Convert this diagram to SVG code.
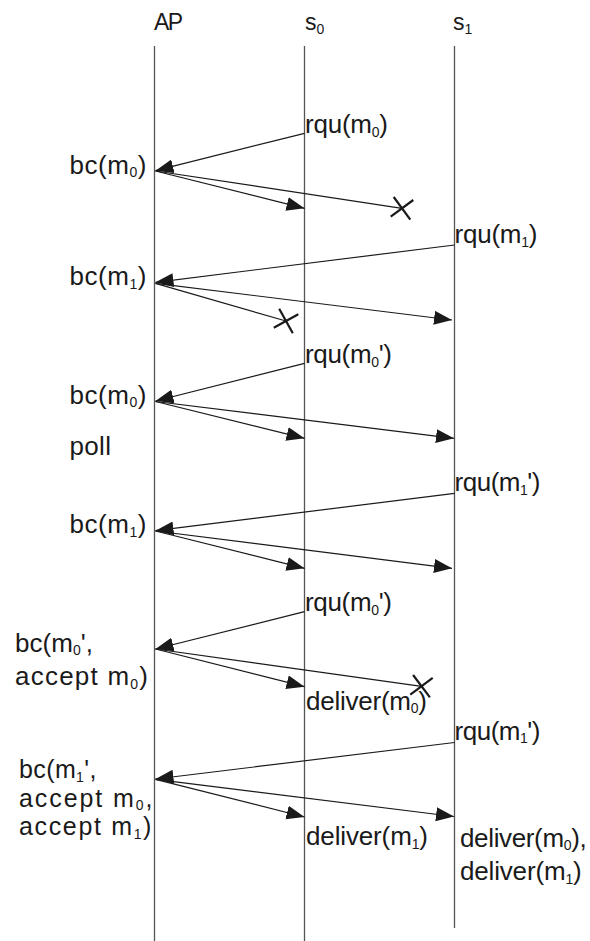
<svg xmlns="http://www.w3.org/2000/svg" width="590" height="941" viewBox="0 0 590 941">
<style>
.lbl{font-family:"Liberation Sans",Arial,sans-serif;font-size:26px;fill:#1a1a1a}
.tight{font-size:25px}
.hdr{font-family:"Liberation Sans",Arial,sans-serif;font-size:23px;fill:#1a1a1a}
.sub{font-size:14px}
.life{stroke:#555;stroke-width:1.3;fill:none}
.msg{stroke:#1a1a1a;stroke-width:1.2;fill:none;marker-end:url(#ah)}
.lost{stroke:#1a1a1a;stroke-width:1.2;fill:none}
.x{stroke:#1a1a1a;stroke-width:2.2;fill:none}
</style>
<defs>
<marker id="ah" markerUnits="userSpaceOnUse" markerWidth="20" markerHeight="16" refX="18" refY="7" orient="auto">
<path d="M0,0 L18,7 L0,14 Z" fill="#1a1a1a"/>
</marker>
</defs>
<rect width="590" height="941" fill="#fff"/>
<g id="node-AP">
<line class="life" x1="154.5" y1="46" x2="154.5" y2="941"/>
<text class="hdr" x="154" y="30" textLength="29">AP</text>
</g>
<g id="node-s0">
<line class="life" x1="304.5" y1="46" x2="304.5" y2="941"/>
<text class="hdr" x="305" y="30">s<tspan class="sub" dy="4">0</tspan></text>
</g>
<g id="node-s1">
<line class="life" x1="454.5" y1="46" x2="454.5" y2="928"/>
<text class="hdr" x="453" y="30">s<tspan class="sub" dy="4">1</tspan></text>
</g>
<g id="connectors">
<line class="msg" x1="304.5" y1="133.3" x2="155.5" y2="170.7"/>
<line class="msg" x1="155.5" y1="171" x2="304.5" y2="208.3"/>
<line class="lost" x1="155.5" y1="171" x2="402" y2="208.3"/>
<line class="msg" x1="454.5" y1="245" x2="155.5" y2="282.3"/>
<line class="lost" x1="155.5" y1="283.3" x2="286" y2="321"/>
<line class="msg" x1="155.5" y1="283.3" x2="452" y2="320"/>
<line class="msg" x1="304.5" y1="363.3" x2="155.5" y2="401"/>
<line class="msg" x1="155.5" y1="401.5" x2="304.5" y2="438.3"/>
<line class="msg" x1="155.5" y1="401.5" x2="454" y2="438.3"/>
<line class="msg" x1="454.5" y1="493.3" x2="155.5" y2="530.7"/>
<line class="msg" x1="155.5" y1="531" x2="304.5" y2="568.3"/>
<line class="msg" x1="155.5" y1="531" x2="452" y2="568.3"/>
<line class="msg" x1="304.5" y1="611.7" x2="155.5" y2="649"/>
<line class="msg" x1="155.5" y1="649" x2="304.5" y2="686.7"/>
<line class="lost" x1="155.5" y1="649" x2="421.5" y2="686.3"/>
<line class="msg" x1="454.5" y1="742.5" x2="155.5" y2="779"/>
<line class="msg" x1="155.5" y1="779.3" x2="304.5" y2="817"/>
<line class="msg" x1="155.5" y1="779.3" x2="454" y2="816.5"/>
</g>
<g id="losses">
<line class="x" x1="393.7" y1="197" x2="410.3" y2="219.6"/>
<line class="x" x1="390.7" y1="216.6" x2="413.3" y2="200"/>
<line class="x" x1="279.2" y1="308.8" x2="292.8" y2="333.3"/>
<line class="x" x1="273.8" y1="327.8" x2="298.3" y2="314.2"/>
<line class="x" x1="413.1" y1="675" x2="429.9" y2="697.4"/>
<line class="x" x1="410.3" y1="694.6" x2="432.7" y2="677.8"/>
</g>
<g id="labels">
<text class="lbl" x="305" y="133" textLength="83">rqu(m<tspan class="sub" dy="3.5">0</tspan><tspan dy="-3.5">)</tspan></text>
<text class="lbl" x="69.5" y="173.5" textLength="77">bc(m<tspan class="sub" dy="3.5">0</tspan><tspan dy="-3.5">)</tspan></text>
<text class="lbl" x="454.5" y="243" textLength="83">rqu(m<tspan class="sub" dy="3.5">1</tspan><tspan dy="-3.5">)</tspan></text>
<text class="lbl" x="69.5" y="285" textLength="77">bc(m<tspan class="sub" dy="3.5">1</tspan><tspan dy="-3.5">)</tspan></text>
<text class="lbl" x="305" y="363" textLength="87">rqu(m<tspan class="sub" dy="3.5">0</tspan><tspan dy="-3.5">')</tspan></text>
<text class="lbl" x="69.5" y="403.5" textLength="77">bc(m<tspan class="sub" dy="3.5">0</tspan><tspan dy="-3.5">)</tspan></text>
<text class="lbl" x="69.5" y="455" textLength="41.5">poll</text>
<text class="lbl" x="454.5" y="491" textLength="86">rqu(m<tspan class="sub" dy="3.5">1</tspan><tspan dy="-3.5">')</tspan></text>
<text class="lbl" x="69.5" y="533" textLength="77">bc(m<tspan class="sub" dy="3.5">1</tspan><tspan dy="-3.5">)</tspan></text>
<text class="lbl" x="305" y="611" textLength="87">rqu(m<tspan class="sub" dy="3.5">0</tspan><tspan dy="-3.5">')</tspan></text>
<text class="lbl" x="15" y="651.7" textLength="78">bc(m<tspan class="sub" dy="3.5">0</tspan><tspan dy="-3.5">',</tspan></text>
<text class="lbl" x="15" y="685" textLength="133">accept m<tspan class="sub" dy="3.5">0</tspan><tspan dy="-3.5">)</tspan></text>
<text class="lbl" x="306" y="709.5" textLength="121">deliver(m<tspan class="sub" dy="3.5">0</tspan><tspan dy="-3.5">)</tspan></text>
<text class="lbl" x="454.5" y="739.5" textLength="86">rqu(m<tspan class="sub" dy="3.5">1</tspan><tspan dy="-3.5">')</tspan></text>
<text class="lbl tight" x="19" y="778.3" textLength="77.4">bc(m<tspan class="sub" dy="3.5">1</tspan><tspan dy="-3.5">',</tspan></text>
<text class="lbl tight" x="19" y="806.7" textLength="133.4">accept m<tspan class="sub" dy="3.5">0</tspan><tspan dy="-3.5">,</tspan></text>
<text class="lbl tight" x="19" y="835" textLength="132.4">accept m<tspan class="sub" dy="3.5">1</tspan><tspan dy="-3.5">)</tspan></text>
<text class="lbl" x="306" y="845" textLength="122">deliver(m<tspan class="sub" dy="3.5">1</tspan><tspan dy="-3.5">)</tspan></text>
<text class="lbl" x="460" y="846.5" textLength="126.7">deliver(m<tspan class="sub" dy="3.5">0</tspan><tspan dy="-3.5">),</tspan></text>
<text class="lbl" x="460" y="880" textLength="121.7">deliver(m<tspan class="sub" dy="3.5">1</tspan><tspan dy="-3.5">)</tspan></text>
</g>
</svg>
